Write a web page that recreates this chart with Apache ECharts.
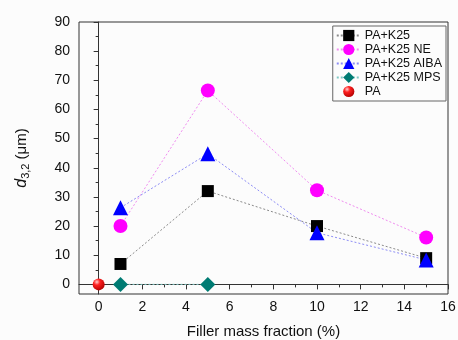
<!DOCTYPE html>
<html>
<head>
<meta charset="utf-8">
<script src="https://cdn.jsdelivr.net/npm/echarts@6/dist/echarts.min.js"></script>
<style>
  html, body { margin: 0; padding: 0; background: #fcfcfc; }
  #chart { width: 458px; height: 340px; }
</style>
</head>
<body>
<div id="chart"></div>
<script>
// filler fractions (%) and d3,2 values (µm)
const xK25 = [1, 5, 10, 15];
const yK25 = [7, 32, 20, 9];
const yNE = [20, 66.5, 32.3, 16.1];
const yAIBA = [26.3, 44.8, 17.7, 8.4];
const xMPS = [1, 5];
const yMPS = [0, 0];
const xPA = [0];
const yPA = [0];

const xMajor = [0, 2, 4, 6, 8, 10, 12, 14, 16];
const xMinor = [1, 3, 5, 7, 9, 11, 13, 15];
const yMajor = [0, 10, 20, 30, 40, 50, 60, 70, 80, 90];
const yMinor = [5, 15, 25, 35, 45, 55, 65, 75, 85];

const font = "'Liberation Sans', Arial, sans-serif";
const pairs = (xs, ys) => xs.map((x, i) => [x, ys[i]]);

const chart = echarts.init(document.getElementById("chart"));

function series(name, xs, ys, symbol, size, color, lineColor) {
  return {
    name,
    type: "line",
    data: pairs(xs, ys),
    symbol,
    symbolSize: size,
    itemStyle: { color },
    lineStyle: { color: lineColor, width: 1, type: [2, 2] },
    emphasis: { disabled: true },
    z: 3,
  };
}

chart.setOption({
  animation: false,
  backgroundColor: "#fcfcfc",
  textStyle: { fontFamily: font },
  grid: {
    left: 79, right: 10, top: 22, bottom: 46,
    outerBoundsMode: "none",
    containLabel: false,
    show: true, borderColor: "#333", borderWidth: 1,
  },
  legend: {
    orient: "vertical",
    right: 12,
    top: 26,
    itemWidth: 24,
    itemHeight: 14,
    itemGap: 1,
    padding: [3, 4, 3, 3],
    borderColor: "#666",
    borderWidth: 1,
    backgroundColor: "#fcfcfc",
    textStyle: { fontFamily: font, fontSize: 12.5, color: "#111", padding: [0, 0, 0, -1] },
    data: ["PA+K25", "PA+K25 NE", "PA+K25 AIBA", "PA+K25 MPS", "PA"],
  },
  xAxis: [
    {
      type: "value",
      min: -0.9,
      max: 16,
      name: "Filler mass fraction (%)",
      nameLocation: "middle",
      nameGap: 30,
      nameTextStyle: { fontFamily: font, fontSize: 15, color: "#111" },
      axisLine: { lineStyle: { color: "#333" } },
      axisTick: { length: 5, customValues: xMajor, lineStyle: { color: "#333" } },
      axisLabel: { customValues: xMajor, fontSize: 14, color: "#111", margin: 6 },
      splitLine: { show: false },
    },
    {
      type: "value",
      min: -0.9,
      max: 16,
      position: "bottom",
      axisLine: { show: false },
      axisTick: { length: 3, customValues: xMinor, lineStyle: { color: "#333" } },
      axisLabel: { show: false },
      splitLine: { show: false },
    },
  ],
  yAxis: [
    {
      type: "value",
      min: -3.3,
      max: 90,
      name: "{i|d}{s|3,2} (μm)",
      nameLocation: "middle",
      nameGap: 48,
      nameTextStyle: {
        fontFamily: font, fontSize: 15, color: "#111",
        rich: {
          i: { fontFamily: font, fontStyle: "italic", fontSize: 16, color: "#111" },
          s: { fontFamily: font, fontSize: 11, color: "#111", verticalAlign: "bottom", padding: [7, 0, 0, 0] },
        },
      },
      axisLine: { show: true, lineStyle: { color: "#333" } },
      axisTick: { show: true, length: 5, customValues: yMajor, lineStyle: { color: "#333" } },
      axisLabel: { customValues: yMajor, fontSize: 14, color: "#111", margin: 9 },
      splitLine: { show: false },
    },
    {
      type: "value",
      min: -3.3,
      max: 90,
      position: "left",
      axisLine: { show: false },
      axisTick: { show: true, length: 3, customValues: yMinor, lineStyle: { color: "#333" } },
      axisLabel: { show: false },
      splitLine: { show: false },
    },
  ],
  series: [
    series("PA+K25", xK25, yK25, "rect", 12, "#000000", "#8a8a8a"),
    series("PA+K25 NE", xK25, yNE, "circle", 14, "#ff00ff", "#f08cf0"),
    series("PA+K25 AIBA", xK25, yAIBA, "triangle", 15, "#0000ff", "#8c8cf5"),
    series("PA+K25 MPS", xMPS, yMPS, "diamond", 15, "#007b73", "#7ec8c4"),
    {
      name: "PA",
      type: "line",
      data: pairs(xPA, yPA),
      symbol: "circle",
      symbolSize: 12,
      itemStyle: {
        color: {
          type: "radial", x: 0.35, y: 0.3, r: 0.75,
          colorStops: [
            { offset: 0, color: "#ffd0d0" },
            { offset: 0.35, color: "#ff2020" },
            { offset: 1, color: "#b00000" },
          ],
        },
      },
      lineStyle: { width: 0 },
      emphasis: { disabled: true },
      z: 3,
    },
  ],
});
</script>
</body>
</html>
